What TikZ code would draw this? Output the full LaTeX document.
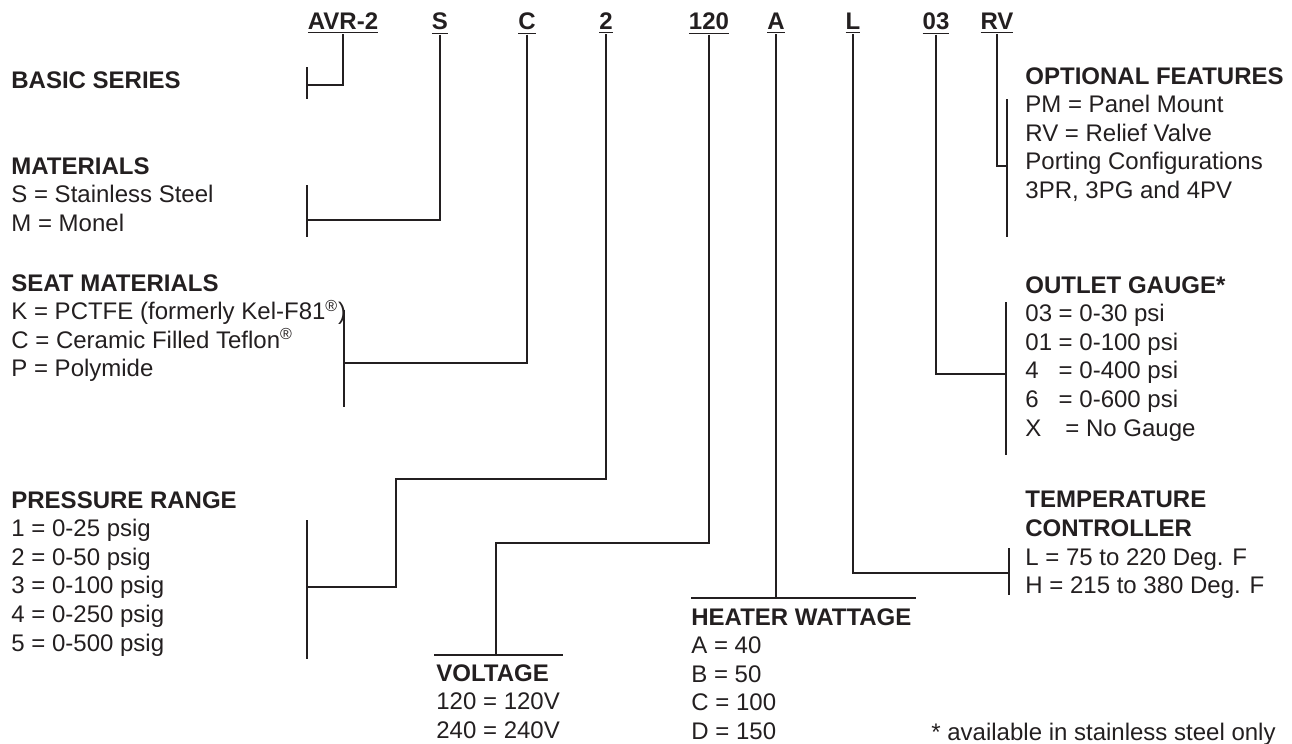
\documentclass[tikz,border=0pt]{standalone}
\usepackage{fontspec}
\setmainfont{Liberation Sans}
\definecolor{ink}{HTML}{231F20}
\begin{document}
\begin{tikzpicture}[
    x=0.5pt, y=-0.5pt,
    every node/.style={font=\fontsize{12}{14.3}\selectfont, text=ink},
    code/.style={anchor=base, inner sep=0pt, font=\fontsize{12}{14.3}\selectfont\bfseries},
    block/.style={anchor=north west, align=left, inner sep=0pt},
    lead/.style={draw=ink, line width=0.6pt}
  ]
  \useasboundingbox (0,0) rectangle (1292,744);

  % part number
  \node[code] (cAVR) at (343,30) {\underline{AVR-2}};
  \node[code] (cS) at (440,30) {\underline{S}};
  \node[code] (cC) at (527,30) {\underline{C}};
  \node[code] (cTwo) at (606,30) {\underline{2}};
  \node[code] (cVolt) at (709,30) {\underline{120}};
  \node[code] (cA) at (776,30) {\underline{A}};
  \node[code] (cL) at (853,30) {\underline{L}};
  \node[code] (cGauge) at (936,30) {\underline{03}};
  \node[code] (cRV) at (997,30) {\underline{RV}};

  % left column
  \node[block] (basic) at (11,71) {\textbf{BASIC SERIES}};
  \node[block] (mat) at (11,157) {\textbf{MATERIALS}\\S = Stainless Steel\\M = Monel};
  \node[block] (seat) at (11,274) {\textbf{SEAT MATERIALS}\\K = PCTFE (formerly Kel-F81\textsuperscript{®})\\C = Ceramic Filled Teflon\textsuperscript{®}\\P = Polymide};
  \node[block] (pres) at (11,491) {\textbf{PRESSURE RANGE}\\1 = 0-25 psig\\2 = 0-50 psig\\3 = 0-100 psig\\4 = 0-250 psig\\5 = 0-500 psig};

  % bottom
  \node[block] (volt) at (436,664) {\textbf{VOLTAGE}\\120 = 120V\\240 = 240V};
  \node[block] (heat) at (691,608) {\textbf{HEATER WATTAGE}\\A = 40\\B = 50\\C = 100\\D = 150};
  \node[anchor=base east, inner sep=0pt] (note) at (1276,740) {* available in stainless steel only};

  % right column
  \node[block] (opt) at (1025,67) {\textbf{OPTIONAL FEATURES}\\PM = Panel Mount\\RV = Relief Valve\\Porting Configurations\\3PR, 3PG and 4PV};
  \node[block] (outg) at (1025,276) {\textbf{OUTLET GAUGE*}\\03 = 0-30 psi\\01 = 0-100 psi\\4\hphantom{0} = 0-400 psi\\6\hphantom{0} = 0-600 psi\\X\hphantom{0}\, = No Gauge};
  \node[block] (temp) at (1025,491) {\textbf{TEMPERATURE}\\\textbf{CONTROLLER}\\L = 75 to 220 Deg. F\\H = 215 to 380 Deg. F};

  % brackets
  \coordinate (basicT) at (307,67);
  \coordinate (basicB) at (307,99);
  \coordinate (basicJ) at (307,85);
  \coordinate (matT) at (307,185);
  \coordinate (matB) at (307,237);
  \coordinate (matJ) at (307,220);
  \coordinate (seatT) at (344,310);
  \coordinate (seatB) at (344,407);
  \coordinate (seatJ) at (344,363);
  \coordinate (presT) at (307,520);
  \coordinate (presB) at (307,659);
  \coordinate (presJ) at (307,587);
  \coordinate (presK) at (396,479);
  \coordinate (voltL) at (434,655);
  \coordinate (voltR) at (563,655);
  \coordinate (voltJ) at (496,655);
  \coordinate (voltK) at (496,543);
  \coordinate (heatL) at (691,598);
  \coordinate (heatR) at (916,598);
  \coordinate (heatJ) at (776,598);
  \coordinate (tempT) at (1009,548);
  \coordinate (tempB) at (1009,595);
  \coordinate (tempJ) at (1009,573);
  \coordinate (outgT) at (1006,302);
  \coordinate (outgB) at (1006,455);
  \coordinate (outgJ) at (1006,374);
  \coordinate (optT) at (1007,99);
  \coordinate (optB) at (1007,237);
  \coordinate (optJ) at (1007,166);

  \draw[lead] (basicT) -- (basicB);
  \draw[lead] (matT) -- (matB);
  \draw[lead] (seatT) -- (seatB);
  \draw[lead] (presT) -- (presB);
  \draw[lead] (voltL) -- (voltR);
  \draw[lead] (heatL) -- (heatR);
  \draw[lead] (tempT) -- (tempB);
  \draw[lead] (outgT) -- (outgB);
  \draw[lead] (optT) -- (optB);

  % leads from the part number
  \draw[lead] (cAVR.south) |- (basicJ);
  \draw[lead] (cS.south) |- (matJ);
  \draw[lead] (cC.south) |- (seatJ);
  \draw[lead] (cTwo.south) |- (presK) |- (presJ);
  \draw[lead] (cVolt.south) |- (voltK) -- (voltJ);
  \draw[lead] (cA.south) -- (heatJ);
  \draw[lead] (cL.south) |- (tempJ);
  \draw[lead] (cGauge.south) |- (outgJ);
  \draw[lead] (cRV.south) |- (optJ);
\end{tikzpicture}
\end{document}
